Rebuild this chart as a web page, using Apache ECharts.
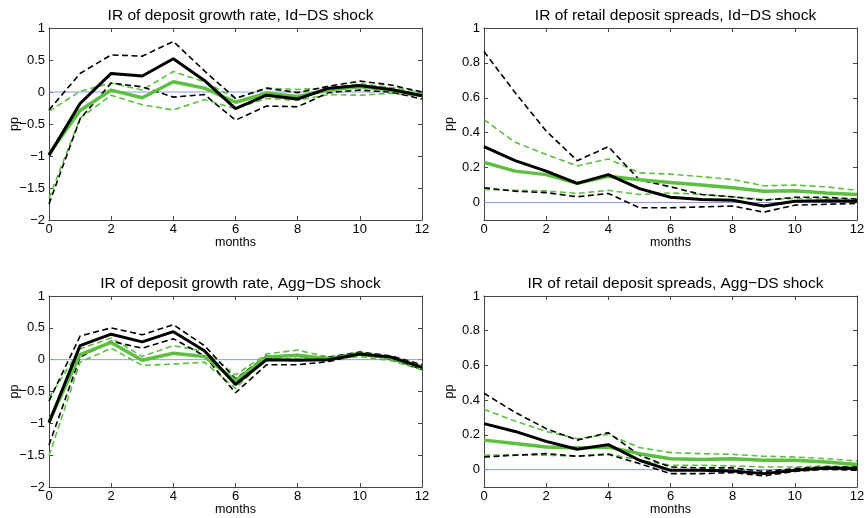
<!DOCTYPE html>
<html>
<head>
<meta charset="utf-8">
<script src="https://cdn.jsdelivr.net/npm/echarts@6/dist/echarts.min.js"></script>
<style>html,body{margin:0;padding:0;background:#fff;}#c{width:868px;height:518px;}</style>
</head>
<body>
<div id="c"></div>
<script>
const months = [0,1,2,3,4,5,6,7,8,9,10,11,12];
const titles = [
  "IR of deposit growth rate, Id\u2212DS shock",
  "IR of retail deposit spreads, Id\u2212DS shock",
  "IR of deposit growth rate, Agg\u2212DS shock",
  "IR of retail deposit spreads, Agg\u2212DS shock"
];
const xTicks = [0,2,4,6,8,10,12];
const growthTicks = [-2,-1.5,-1,-0.5,0,0.5,1];
const spreadTicks = [0,0.2,0.4,0.6,0.8,1];

// Panel 1: deposit growth rate, Id-DS shock
const p1Black   = [-0.99,-0.18,0.29,0.25,0.52,0.18,-0.26,-0.05,-0.11,0.06,0.10,0.04,-0.06];
const p1BlackUp = [-0.28,0.29,0.58,0.56,0.79,0.33,-0.10,0.06,-0.01,0.09,0.17,0.11,0.00];
const p1BlackLo = [-1.75,-0.42,0.14,0.08,-0.08,-0.04,-0.44,-0.22,-0.23,-0.01,0.03,0.00,-0.11];
const p1Green   = [-0.97,-0.29,0.03,-0.09,0.16,0.06,-0.16,-0.02,-0.07,0.03,0.08,0.03,-0.05];
const p1GreenUp = [-0.30,0.01,0.14,0.03,0.32,0.16,-0.10,0.06,0.04,0.06,0.13,0.07,0.00];
const p1GreenLo = [-1.66,-0.41,-0.05,-0.20,-0.28,-0.12,-0.26,-0.10,-0.13,-0.04,-0.05,-0.02,-0.07];

// Panel 2: retail deposit spreads, Id-DS shock
const p2Black   = [0.32,0.24,0.18,0.11,0.16,0.08,0.03,0.017,0.013,-0.02,0.008,0.01,0.008];
const p2BlackUp = [0.865,0.63,0.41,0.24,0.32,0.13,0.09,0.046,0.033,0.013,0.03,0.03,0.02];
const p2BlackLo = [0.085,0.065,0.057,0.033,0.052,-0.03,-0.03,-0.025,-0.02,-0.055,-0.015,-0.01,-0.005];
const p2Green   = [0.23,0.18,0.16,0.11,0.15,0.13,0.115,0.10,0.085,0.065,0.067,0.055,0.046];
const p2GreenUp = [0.475,0.345,0.275,0.21,0.25,0.17,0.163,0.148,0.132,0.096,0.10,0.09,0.07];
const p2GreenLo = [0.075,0.07,0.067,0.052,0.07,0.046,0.055,0.046,0.033,0.017,0.023,0.023,0.017];

// Panel 3: deposit growth rate, Agg-DS shock
const p3Black   = [-0.99,0.22,0.40,0.28,0.44,0.14,-0.39,0.00,-0.01,0.00,0.09,0.04,-0.12];
const p3BlackUp = [-0.65,0.37,0.50,0.39,0.55,0.22,-0.30,0.06,0.05,0.04,0.12,0.06,-0.08];
const p3BlackLo = [-1.34,0.04,0.29,0.18,0.33,0.06,-0.52,-0.08,-0.08,-0.03,0.08,0.01,-0.15];
const p3Green   = [-0.98,0.08,0.27,-0.01,0.10,0.05,-0.33,0.04,0.07,0.015,0.09,0.03,-0.12];
const p3GreenUp = [-0.60,0.17,0.34,0.05,0.22,0.13,-0.24,0.09,0.15,0.04,0.12,0.05,-0.09];
const p3GreenLo = [-1.51,-0.04,0.18,-0.09,-0.07,-0.04,-0.45,0.015,0.015,0.00,0.05,-0.015,-0.16];

// Panel 4: retail deposit spreads, Agg-DS shock
const p4Black   = [0.265,0.22,0.163,0.117,0.144,0.054,-0.004,-0.004,-0.008,-0.023,-0.004,0.01,0.006];
const p4BlackUp = [0.44,0.33,0.236,0.17,0.213,0.083,0.015,0.01,0.01,-0.01,0.006,0.015,0.015];
const p4BlackLo = [0.073,0.083,0.092,0.077,0.088,0.035,-0.023,-0.023,-0.017,-0.036,-0.01,0.002,-0.004];
const p4Green   = [0.17,0.15,0.13,0.125,0.13,0.092,0.063,0.058,0.063,0.054,0.054,0.044,0.029];
const p4GreenUp = [0.347,0.28,0.22,0.178,0.203,0.127,0.098,0.092,0.088,0.077,0.073,0.063,0.05];
const p4GreenLo = [0.083,0.086,0.083,0.077,0.092,0.054,0.025,0.025,0.021,0.015,0.015,0.021,0.015];

const panels = [
  [p1Black,p1BlackUp,p1BlackLo,p1Green,p1GreenUp,p1GreenLo],
  [p2Black,p2BlackUp,p2BlackLo,p2Green,p2GreenUp,p2GreenLo],
  [p3Black,p3BlackUp,p3BlackLo,p3Green,p3GreenUp,p3GreenLo],
  [p4Black,p4BlackUp,p4BlackLo,p4Green,p4GreenUp,p4GreenLo]
];

const FONT = "Liberation Sans";
const GREEN = "#5cbf3f";
const ZERO = "#8f98e0";
const AXIS = "#444";
const grids = [
  {left:49, top:28, width:373, height:192},
  {left:484, top:28, width:373, height:192},
  {left:49, top:296, width:373, height:191},
  {left:484, top:296, width:373, height:191}
];
const yRange = [[-2,1],[-0.1,1],[-2,1],[-0.1,1]];
const yTickVals = [growthTicks, spreadTicks, growthTicks, spreadTicks];

function fmt(v){
  const s = String(Math.round(v*10)/10);
  return s.replace('-', '\u2212');
}
function pairs(arr){ return months.map((m,i)=>[m,arr[i]]); }

const option = {
  animation:false,
  backgroundColor:'#fff',
  title: grids.map((g,i)=>({
    text: titles[i],
    left: g.left + g.width/2,
    top: g.top - 25,
    textAlign:'center',
    textStyle:{fontFamily:FONT,fontSize:15.5,fontWeight:'normal',color:'#000'}
  })),
  grid: grids.map(g=>Object.assign({containLabel:false}, g)),
  xAxis: [],
  yAxis: [],
  series: []
};

grids.forEach((g,i)=>{
  const axLine = {show:true,onZero:false,lineStyle:{color:AXIS,width:1}};
  const tick = {show:true,inside:true,length:4,lineStyle:{color:AXIS},customValues:xTicks};
  option.xAxis.push({
    gridIndex:i,type:'value',min:0,max:12,position:'bottom',
    axisLine:axLine,axisTick:tick,splitLine:{show:false},
    axisLabel:{customValues:xTicks,fontFamily:FONT,fontSize:13,color:'#000',margin:3,formatter:fmt},
    name:'months',nameLocation:'middle',nameGap:16,nameMoveOverlap:false,
    nameTextStyle:{fontFamily:FONT,fontSize:12.5,color:'#000'}
  });
  option.xAxis.push({
    gridIndex:i,type:'value',min:0,max:12,position:'top',
    axisLine:axLine,axisTick:tick,splitLine:{show:false},axisLabel:{show:false}
  });
  const yt = {show:true,inside:true,length:4,lineStyle:{color:AXIS},customValues:yTickVals[i]};
  option.yAxis.push({
    gridIndex:i,type:'value',min:yRange[i][0],max:yRange[i][1],position:'left',
    axisLine:axLine,axisTick:yt,splitLine:{show:false},
    axisLabel:{customValues:yTickVals[i],fontFamily:FONT,fontSize:13,color:'#000',margin:4,formatter:fmt},
    name:'pp',nameLocation:'middle',nameGap:28,nameRotate:90,nameMoveOverlap:false,
    nameTextStyle:{fontFamily:FONT,fontSize:12.5,color:'#000'}
  });
  option.yAxis.push({
    gridIndex:i,type:'value',min:yRange[i][0],max:yRange[i][1],position:'right',
    axisLine:axLine,axisTick:yt,splitLine:{show:false},axisLabel:{show:false}
  });
  const xi = i*2, yi = i*2;
  const d = panels[i];
  const base = {type:'line',xAxisIndex:xi,yAxisIndex:yi,symbol:'none',silent:true};
  option.series.push(Object.assign({}, base, {data:[[0,0],[12,0]],lineStyle:{color:ZERO,width:1},z:1}));
  option.series.push(Object.assign({}, base, {data:pairs(d[4]),lineStyle:{color:GREEN,width:1.6,type:[6,3.5]},z:2}));
  option.series.push(Object.assign({}, base, {data:pairs(d[5]),lineStyle:{color:GREEN,width:1.6,type:[6,3.5]},z:2}));
  option.series.push(Object.assign({}, base, {data:pairs(d[1]),lineStyle:{color:'#000',width:1.6,type:[6,3.5]},z:3}));
  option.series.push(Object.assign({}, base, {data:pairs(d[2]),lineStyle:{color:'#000',width:1.6,type:[6,3.5]},z:3}));
  option.series.push(Object.assign({}, base, {data:pairs(d[3]),lineStyle:{color:GREEN,width:3.5},z:4}));
  option.series.push(Object.assign({}, base, {data:pairs(d[0]),lineStyle:{color:'#000',width:3},z:5}));
});

const chart = echarts.init(document.getElementById('c'), null, {renderer:'canvas'});
chart.setOption(option);
</script>
</body>
</html>
